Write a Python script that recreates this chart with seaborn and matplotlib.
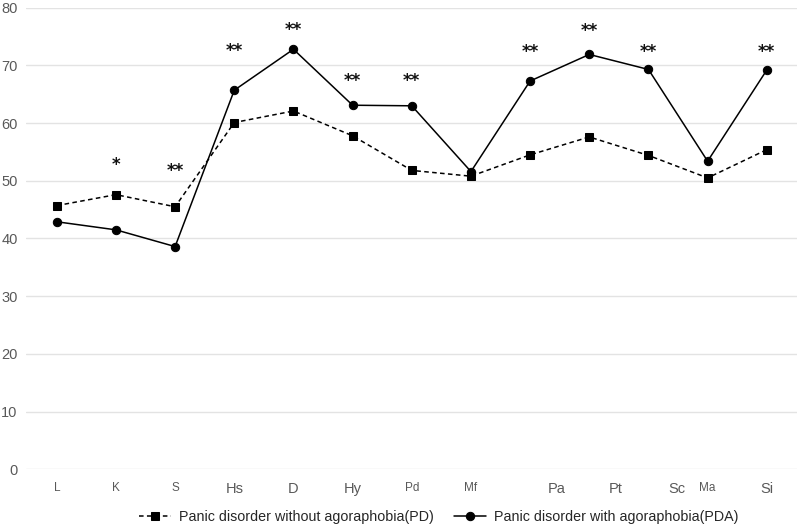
import matplotlib
matplotlib.use("Agg")
import matplotlib.pyplot as plt
import matplotlib.transforms as mtransforms
import pandas as pd
import seaborn as sns

scales = ["L", "K", "S", "Hs", "D", "Hy", "Pd", "Mf", "Pa", "Pt", "Sc", "Ma", "Si"]
pd_vals = [45.7, 47.6, 45.5, 60.1, 62.1, 57.8, 51.8, 50.8, 54.5, 57.6, 54.4, 50.5, 55.4]
pda_vals = [42.9, 41.5, 38.6, 65.7, 72.8, 63.1, 63.0, 51.6, 67.3, 71.9, 69.3, 53.4, 69.2]
stars = ["", "*", "**", "**", "**", "**", "**", "", "**", "**", "**", "", "**"]
star_y = [0, 53.2, 52.2, 73.0, 76.6, 67.8, 67.8, 0, 72.9, 76.5, 72.9, 0, 72.9]
# label sizes / offsets as in the original (mixed fonts in the source figure)
big_labels = ["Hs", "D", "Hy", "Pa", "Pt", "Sc", "Si"]
shifted_labels = {"Pa": 27, "Pt": 26, "Sc": 28}

df = pd.DataFrame({"scale": scales, "PD": pd_vals, "PDA": pda_vals})

sns.set_style("white")
plt.rcParams["font.family"] = ["Liberation Sans", "DejaVu Sans"]

fig = plt.figure(figsize=(8, 5.29), dpi=100)
ax = fig.add_axes([0.0325, 0.1129, 0.9637, 0.8725])

sns.lineplot(x="scale", y="PD", data=df, sort=False, color="black", lw=1.1,
             linestyle=(0, (3, 2.2)), marker="s", markersize=5.5,
             markeredgecolor="black", label="Panic disorder without agoraphobia(PD)", ax=ax)
sns.lineplot(x="scale", y="PDA", data=df, sort=False, color="black", lw=1.1,
             marker="o", markersize=6, markeredgecolor="black",
             label="Panic disorder with agoraphobia(PDA)", ax=ax)

star_off = mtransforms.ScaledTranslation(0, -0.03, fig.dpi_scale_trans)
for i, s in enumerate(stars):
    if s:
        ax.text(i, star_y[i], s, ha="center", va="center", fontsize=12, fontweight="bold",
                family="DejaVu Sans", color="#111111", transform=ax.transData + star_off)

ax.set_xlim(-0.52, 12.51)
ax.set_ylim(0, 80)
ax.set_yticks(range(0, 81, 10))
ax.yaxis.grid(True, color="#e3e3e3", lw=1)
ax.set_axisbelow(True)
for sp in ax.spines.values():
    sp.set_visible(False)
ax.tick_params(axis="both", length=0, colors="#595959")
ax.tick_params(axis="y", labelsize=10.5, pad=6)
ax.tick_params(axis="x", pad=9)
ax.set_xlabel("")
ax.set_ylabel("")

ax.set_xticks(range(len(scales)))
ax.set_xticklabels(scales)
for lab in ax.get_xticklabels():
    t = lab.get_text()
    lab.set_fontsize(10.5 if t in big_labels else 8.5)
    if t in shifted_labels:
        off = mtransforms.ScaledTranslation(shifted_labels[t] / 100, 0, fig.dpi_scale_trans)
        lab.set_transform(lab.get_transform() + off)

leg = ax.legend(loc="center", bbox_to_anchor=(0.549, 0.0227), bbox_transform=fig.transFigure,
                ncol=2, frameon=False, fontsize=10.3, handlelength=2.2,
                handletextpad=0.6, columnspacing=1.4)
for t in leg.get_texts():
    t.set_color("#262626")

fig.savefig("out.png", dpi=100)
